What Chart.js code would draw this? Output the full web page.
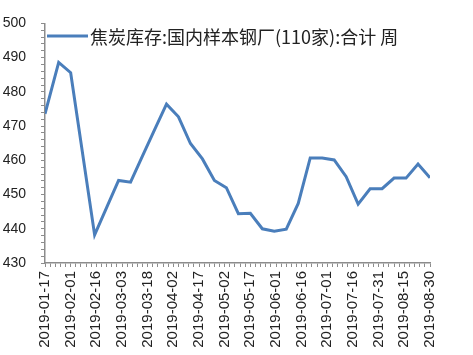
<!DOCTYPE html>
<html>
<head>
<meta charset="utf-8">
<script src="https://cdn.jsdelivr.net/npm/chart.js@4/dist/chart.umd.min.js"></script>
<style>
  html, body { margin: 0; padding: 0; background: #fff; }
  #wrap { width: 473px; height: 355px; }
</style>
</head>
<body>
<div id="wrap"><canvas id="cokeChart"></canvas></div>
<script>
// ── Data ────────────────────────────────────────────────
const seriesName = '焦炭库存:国内样本钢厂(110家):合计 周';

const dates = [
  '2019-01-17', '2019-01-25', '2019-02-01', '2019-02-15', '2019-02-22',
  '2019-03-01', '2019-03-08', '2019-03-15', '2019-03-22', '2019-03-29',
  '2019-04-05', '2019-04-12', '2019-04-19', '2019-04-26', '2019-05-03',
  '2019-05-10', '2019-05-17', '2019-05-24', '2019-05-31', '2019-06-07',
  '2019-06-14', '2019-06-21', '2019-06-28', '2019-07-05', '2019-07-12',
  '2019-07-19', '2019-07-26', '2019-08-02', '2019-08-09', '2019-08-16',
  '2019-08-23', '2019-08-30'
];

const values = [
  473.6, 488.6, 485.6, 438.2, 446.2,
  454.1, 453.6, 461.3, 468.9, 476.4,
  472.7, 464.9, 460.4, 454.1, 452.0,
  444.4, 444.5, 440.0, 439.3, 439.9,
  447.4, 460.7, 460.7, 460.1, 455.2,
  447.2, 451.7, 451.7, 454.8, 454.8,
  458.9, 454.9
];

const xTickLabels = [
  '2019-01-17', '2019-02-01', '2019-02-16', '2019-03-03', '2019-03-18',
  '2019-04-02', '2019-04-17', '2019-05-02', '2019-05-17', '2019-06-01',
  '2019-06-16', '2019-07-01', '2019-07-16', '2019-07-31', '2019-08-15',
  '2019-08-30'
];

const yTickLabels = [430, 440, 450, 460, 470, 480, 490, 500];

// ── Helpers ─────────────────────────────────────────────
const baseDay = Date.parse(xTickLabels[0]);
const dayOf = s => (Date.parse(s) - baseDay) / 86400000;
const labelStep = 15;   // days between x labels
const lineColor = '#4a7ebb';
const axisColor = '#8c8c8c';
const textColor = '#222';

// legend drawn inside the plot, top-left
const insideLegend = {
  id: 'insideLegend',
  afterDraw(chart) {
    const { ctx, chartArea } = chart;
    const y = 36;
    ctx.save();
    ctx.strokeStyle = lineColor;
    ctx.lineWidth = 3;
    ctx.beginPath();
    ctx.moveTo(chartArea.left + 2, y);
    ctx.lineTo(chartArea.left + 43, y);
    ctx.stroke();
    ctx.fillStyle = textColor;
    ctx.font = '18px "Noto Sans CJK SC"';
    ctx.textBaseline = 'middle';
    ctx.fillText(seriesName, chartArea.left + 45, y + 1);
    ctx.restore();
  }
};

new Chart(document.getElementById('cokeChart'), {
  type: 'line',
  data: {
    datasets: [{
      label: seriesName,
      data: dates.map((d, i) => ({ x: dayOf(d), y: values[i] })),
      borderColor: lineColor,
      borderWidth: 3,
      pointRadius: 0,
      tension: 0,
      fill: false,
    }]
  },
  options: {
    responsive: true, maintainAspectRatio: false,
    animation: false,
    layout: { padding: { top: 10, right: 43, left: 0, bottom: 0 } },
    plugins: { legend: { display: false }, tooltip: { enabled: false } },
    scales: {
      x: {
        type: 'linear',
        min: 0,
        max: dayOf(xTickLabels[xTickLabels.length - 1]),
        border: { color: axisColor, width: 1.5 },
        grid: { drawOnChartArea: false, tickLength: 4, color: axisColor },
        ticks: {
          stepSize: 3, autoSkip: false,
          minRotation: 90, maxRotation: 90,
          padding: 4,
          color: textColor, font: { family: 'Liberation Sans', size: 15 },
          callback: v => v % labelStep === 0 ? xTickLabels[v / labelStep] : ''
        },
        afterFit: s => { s.height = 92; }
      },
      y: {
        min: yTickLabels[0],
        max: yTickLabels[yTickLabels.length - 1],
        border: { color: axisColor, width: 1.5 },
        grid: { drawOnChartArea: false, tickLength: 4, color: axisColor },
        ticks: {
          stepSize: 2, autoSkip: false,
          padding: 15,
          color: textColor, font: { family: 'Liberation Sans', size: 14 },
          callback: v => yTickLabels.includes(v) ? String(v) : ''
        },
        afterFit: s => { s.width = 45; }
      }
    }
  },
  plugins: [insideLegend]
});
</script>
</body>
</html>
